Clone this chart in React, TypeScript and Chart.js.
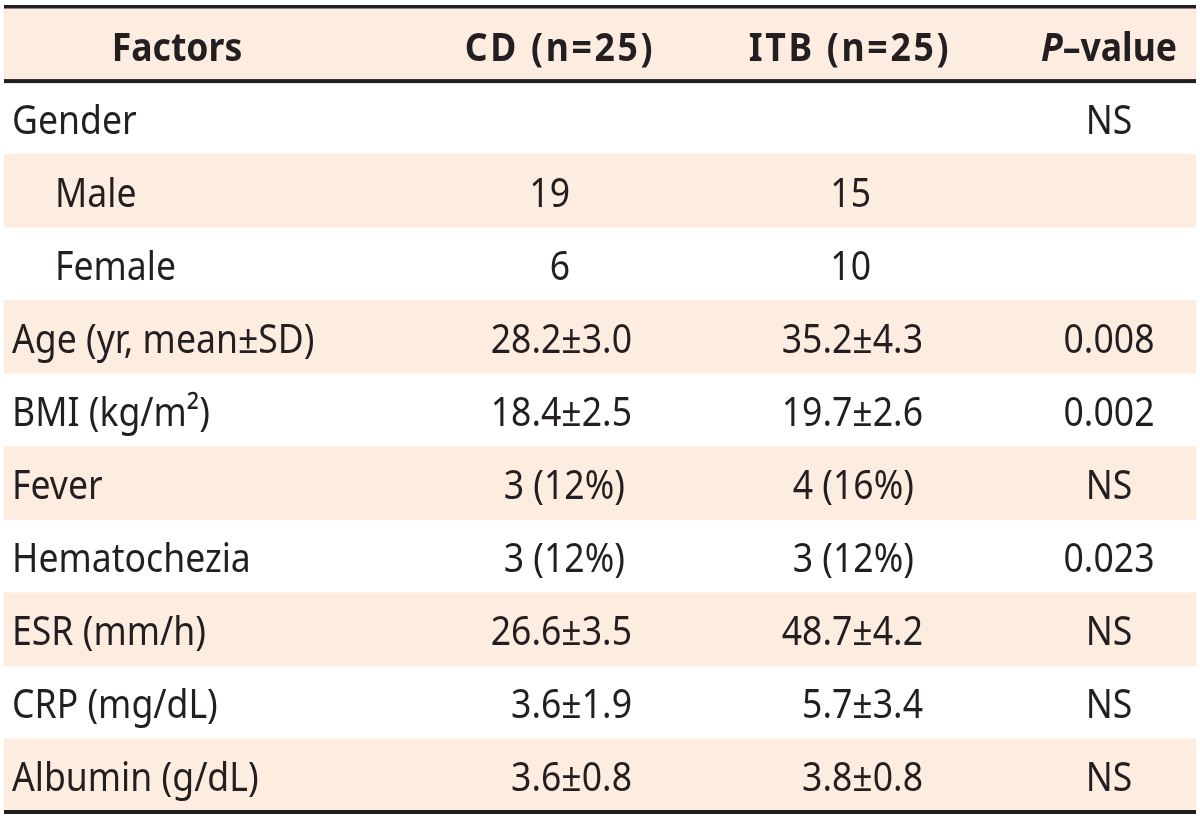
import React, { useEffect, useRef } from "react";
import { Chart, registerables } from "chart.js";

Chart.register(...registerables);

// ---- data ----
const headers = ["Factors", "CD (n=25)", "ITB (n=25)", "P-value"];
const factors = [
  "Gender",
  "Male",
  "Female",
  "Age (yr, mean±SD)",
  "BMI (kg/m²)",
  "Fever",
  "Hematochezia",
  "ESR (mm/h)",
  "CRP (mg/dL)",
  "Albumin (g/dL)",
];
const indented = [false, true, true, false, false, false, false, false, false, false];
const cdValues = ["", "19", "6", "28.2±3.0", "18.4±2.5", "3 (12%)", "3 (12%)", "26.6±3.5", "3.6±1.9", "3.6±0.8"];
const itbValues = ["", "15", "10", "35.2±4.3", "19.7±2.6", "4 (16%)", "3 (12%)", "48.7±4.2", "5.7±3.4", "3.8±0.8"];
const pValues = ["NS", "", "", "0.008", "0.002", "NS", "0.023", "NS", "NS", "NS"];
// shading of rows (header first)
const shadedRows = [true, false, true, false, true, false, true, false, true, false, true];

// ---- styles ----
const SHADE = "#fdece0";
const INK = "#231f20";
const FONT = "'Noto Sans', sans-serif";
const SIZE = 40;
const SX = 0.89;

export default function App() {
  const ref = useRef<HTMLCanvasElement | null>(null);

  useEffect(() => {
    const canvas = ref.current;
    if (!canvas) return;
    const rowLabels = ["__header__", ...factors];

    const drawText = (ctx: CanvasRenderingContext2D, s: string, px: number, py: number, align: CanvasTextAlign, font: string, sx = SX) => {
      ctx.save();
      ctx.translate(px, py);
      ctx.scale(sx, 1);
      ctx.font = font;
      ctx.textAlign = align;
      ctx.textBaseline = "alphabetic";
      ctx.fillStyle = INK;
      ctx.fillText(s, 0, 0);
      ctx.restore();
    };

    const tablePlugin = {
      id: "tableText",
      afterDatasetsDraw(chart: any) {
        const ctx: CanvasRenderingContext2D = chart.ctx;
        const x = chart.scales.x;
        const y = chart.scales.y;
        const band = y.getPixelForValue(1) - y.getPixelForValue(0);
        const top = y.getPixelForValue(0) - band / 2;
        const bottom = y.getPixelForValue(rowLabels.length - 1) + band / 2;
        const left = x.getPixelForValue(4);
        const right = x.getPixelForValue(1196);
        const base = (i: number) => y.getPixelForValue(i) + 16;

        const reg = `${SIZE}px ${FONT}`;
        const bold = `bold ${SIZE}px ${FONT}`;
        const boldIt = `italic bold ${SIZE}px ${FONT}`;

        // header
        const hc = [177, 560, 850, 1109];
        drawText(ctx, headers[0], x.getPixelForValue(hc[0]), base(0), "center", bold);
        ctx.save();
        ctx.letterSpacing = "3px";
        drawText(ctx, headers[1], x.getPixelForValue(hc[1]), base(0), "center", bold);
        drawText(ctx, headers[2], x.getPixelForValue(hc[2]), base(0), "center", bold);
        ctx.restore();
        // P-value with italic P
        ctx.save();
        ctx.font = boldIt;
        const wP = ctx.measureText("P").width * SX;
        ctx.font = bold;
        const rest = headers[3].slice(1).replace("-", "–");
        const wR = ctx.measureText(rest).width * SX;
        ctx.restore();
        const startP = x.getPixelForValue(hc[3]) - (wP + wR) / 2;
        drawText(ctx, "P", startP, base(0), "left", boldIt);
        drawText(ctx, rest, startP + wP, base(0), "left", bold);

        const anchor = (s: string, col: number) => {
          if (s.includes("±")) return col === 0 ? 632 : 923;
          if (s.includes("%")) return col === 0 ? 625 : 914;
          return col === 0 ? 570 : 871;
        };

        factors.forEach((f, i) => {
          const r = i + 1;
          drawText(ctx, f, x.getPixelForValue(indented[i] ? 55 : 12), base(r), "left", reg);
          if (cdValues[i]) drawText(ctx, cdValues[i], x.getPixelForValue(anchor(cdValues[i], 0)), base(r), "right", reg);
          if (itbValues[i]) drawText(ctx, itbValues[i], x.getPixelForValue(anchor(itbValues[i], 1)), base(r), "right", reg);
          if (pValues[i]) drawText(ctx, pValues[i], x.getPixelForValue(1109), base(r), "center", reg);
        });

        // rules
        ctx.save();
        ctx.fillStyle = INK;
        ctx.fillRect(left, top - 3, right - left, 3.5);
        ctx.fillRect(left, top + band - 2, right - left, 4);
        ctx.fillRect(left, bottom - 2, right - left, 4);
        ctx.restore();
      },
    };

    const chart = new Chart(canvas, {
      type: "bar",
      data: {
        labels: rowLabels,
        datasets: [
          {
            data: shadedRows.map((s) => (s ? [4, 1196] : null)) as any,
            backgroundColor: SHADE,
            borderWidth: 0,
            barPercentage: 1,
            categoryPercentage: 1,
          },
        ],
      },
      options: {
        indexAxis: "y",
        animation: false,
        responsive: false,
        maintainAspectRatio: false,
        layout: { padding: { top: 8, bottom: 4, left: 0, right: 0 } },
        plugins: { legend: { display: false }, tooltip: { enabled: false } },
        scales: {
          x: { type: "linear", min: 0, max: 1200, display: false },
          y: { type: "category", display: false, offset: true },
        },
      },
      plugins: [tablePlugin],
    });
    return () => chart.destroy();
  }, []);

  return (
    <div style={{ position: "absolute", left: 0, top: 0, width: 1200, height: 816, background: "#fff" }}>
      <canvas ref={ref} width={1200} height={816} style={{ display: "block" }} />
    </div>
  );
}
